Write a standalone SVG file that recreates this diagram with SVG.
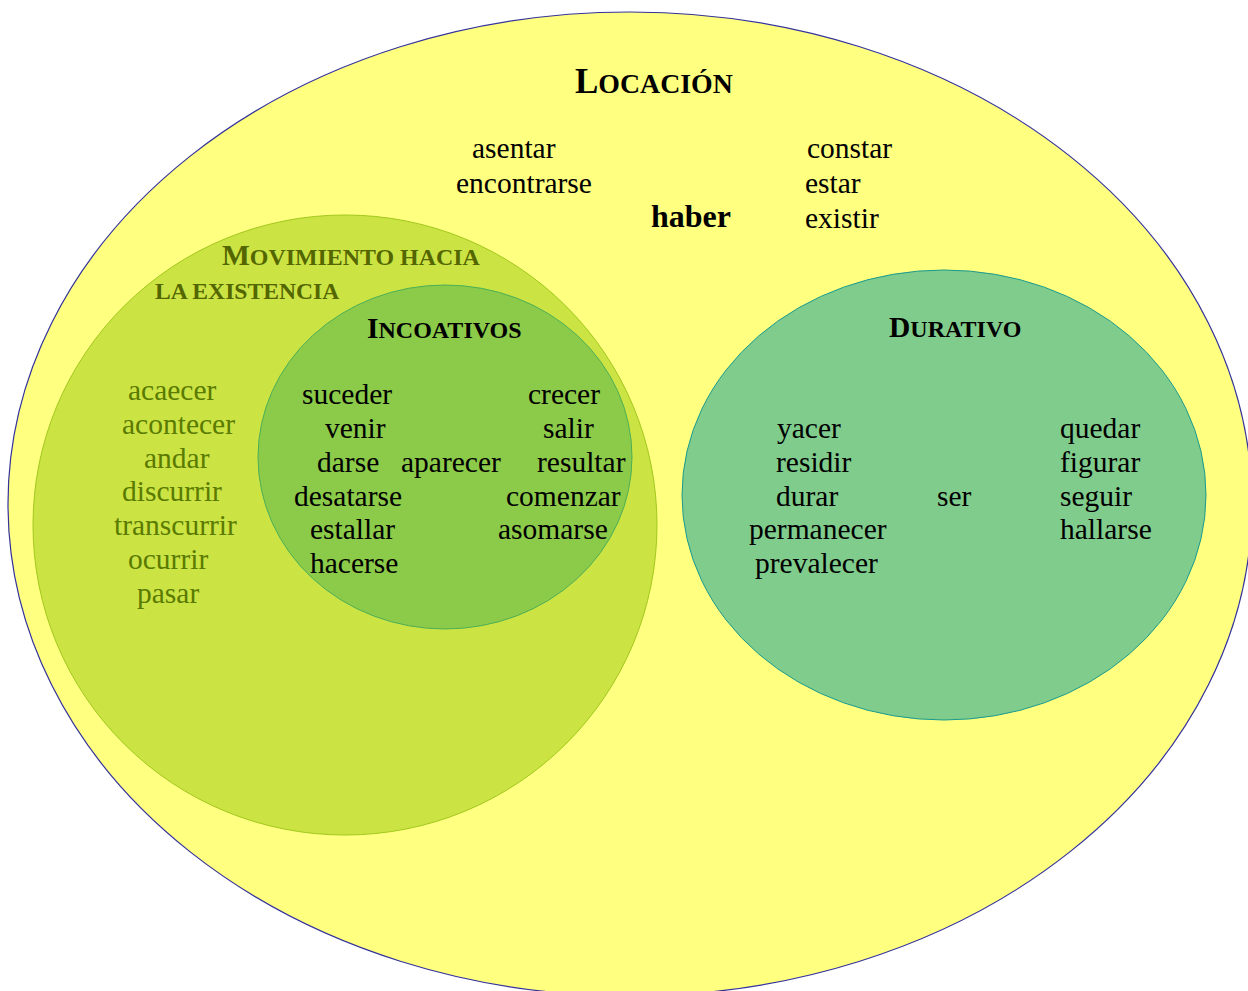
<svg xmlns="http://www.w3.org/2000/svg" width="1248" height="991" viewBox="0 0 1248 991">
<style>
text{font-family:"Liberation Serif","Times New Roman",serif;}
.w{font-size:29.5px;fill:#000;}
.g{font-size:29.5px;fill:#5a7a00;}
.h{font-weight:bold;fill:#000;}
.mh{font-weight:bold;fill:#546600;}
</style>
<rect width="1248" height="991" fill="#ffffff"/>
<g id="locacion">
<ellipse cx="630" cy="504" rx="622" ry="492" fill="#ffff80" stroke="#333399" stroke-width="1.2"/>
<text x="575" y="93" class="h"><tspan font-size="35">L</tspan><tspan font-size="27.8">OCACIÓN</tspan></text>
<text class="w" x="472" y="158">asentar</text>
<text class="w" x="456" y="193">encontrarse</text>
<text x="651" y="227" font-size="32" font-weight="bold">haber</text>
<text class="w" x="807" y="158">constar</text>
<text class="w" x="805" y="193">estar</text>
<text class="w" x="805" y="228">existir</text>
</g>
<g id="movimiento">
<ellipse cx="345" cy="525" rx="312" ry="310" fill="#cbe444" stroke="#a2c81c" stroke-width="1"/>
<text x="222" y="265" class="mh"><tspan font-size="29.5">M</tspan><tspan font-size="23.9">OVIMIENTO HACIA</tspan></text>
<text x="155" y="299" class="mh" font-size="23.6">LA EXISTENCIA</text>
<text class="g" x="128" y="400">acaecer</text>
<text class="g" x="122" y="434">acontecer</text>
<text class="g" x="144" y="468">andar</text>
<text class="g" x="122" y="501">discurrir</text>
<text class="g" x="114" y="535">transcurrir</text>
<text class="g" x="128" y="569">ocurrir</text>
<text class="g" x="137" y="603">pasar</text>
</g>
<g id="incoativos">
<ellipse cx="445" cy="457" rx="187" ry="172" fill="#8cca4a" stroke="#4caf55" stroke-width="1"/>
<text x="367" y="338" class="h"><tspan font-size="29.5">I</tspan><tspan font-size="24">NCOATIVOS</tspan></text>
<text class="w" x="302" y="404">suceder</text>
<text class="w" x="325" y="438">venir</text>
<text class="w" x="317" y="472">darse</text>
<text class="w" x="401" y="472">aparecer</text>
<text class="w" x="294" y="506">desatarse</text>
<text class="w" x="310" y="539">estallar</text>
<text class="w" x="310" y="573">hacerse</text>
<text class="w" x="528" y="404">crecer</text>
<text class="w" x="543" y="438">salir</text>
<text class="w" x="537" y="472">resultar</text>
<text class="w" x="506" y="506">comenzar</text>
<text class="w" x="498" y="539">asomarse</text>
</g>
<g id="durativo">
<ellipse cx="944" cy="495" rx="262" ry="225" fill="#80cc8c" stroke="#1a9a8f" stroke-width="1"/>
<text x="889" y="337" class="h"><tspan font-size="29.5">D</tspan><tspan font-size="24">URATIVO</tspan></text>
<text class="w" x="777" y="438">yacer</text>
<text class="w" x="776" y="472">residir</text>
<text class="w" x="776" y="506">durar</text>
<text class="w" x="749" y="539">permanecer</text>
<text class="w" x="755" y="573">prevalecer</text>
<text class="w" x="937" y="506">ser</text>
<text class="w" x="1060" y="438">quedar</text>
<text class="w" x="1060" y="472">figurar</text>
<text class="w" x="1060" y="506">seguir</text>
<text class="w" x="1060" y="539">hallarse</text>
</g>
<g id="connectors"></g>
</svg>
